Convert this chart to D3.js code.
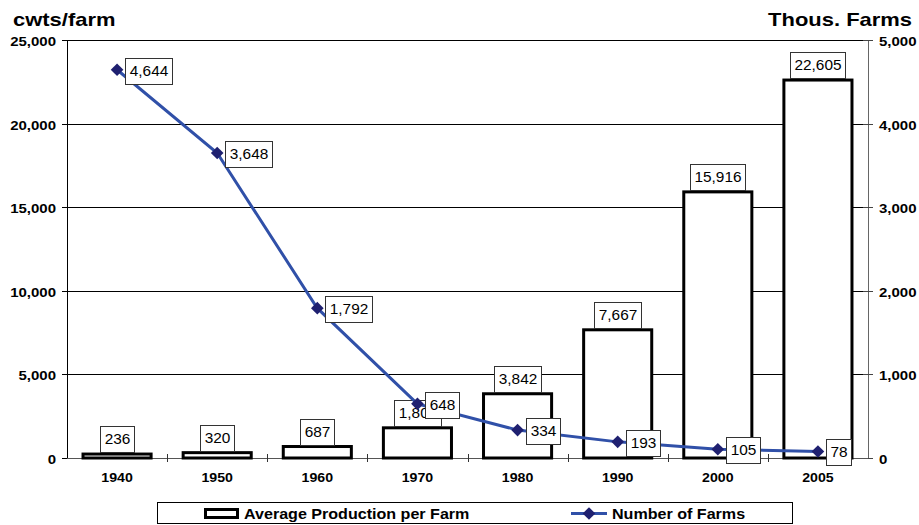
<!DOCTYPE html>
<html><head><meta charset="utf-8">
<script src="https://cdn.jsdelivr.net/npm/d3@7"></script>
<style>body{margin:0;background:#fff}svg{display:block}text{font-family:"Liberation Sans",Arial,sans-serif}</style>
</head><body>
<svg id="c" width="919" height="525"></svg>
<script>
const years = ["1940","1950","1960","1970","1980","1990","2000","2005"];
const production = [236, 320, 687, 1805, 3842, 7667, 15916, 22605];
const farms = [4644, 3648, 1792, 648, 334, 193, 105, 78];
const leftTicks = [0, 5000, 10000, 15000, 20000, 25000];
const rightTicks = [0, 1000, 2000, 3000, 4000, 5000];
const leftTitle = "cwts/farm";
const rightTitle = "Thous. Farms";
const legendLabels = ["Average Production per Farm", "Number of Farms"];

const svg = d3.select("#c");
const L = 67, R = 868, T = 40, B = 458;
const x = d3.scaleBand().domain(years).range([L, R]).padding(0);
const yL = d3.scaleLinear().domain([0, 25000]).range([B, T]);
const yR = d3.scaleLinear().domain([0, 5000]).range([B, T]);
const fmt = d3.format(",");

function txt(g, px, py, s, o) {
  return g.append("text")
    .attr("transform", `translate(${px},${py}) scale(${o.sx||1},1)`)
    .attr("text-anchor", o.anchor || "start")
    .attr("font-size", o.size)
    .attr("font-weight", o.weight || "normal")
    .attr("fill", "#000")
    .text(s);
}

// gridlines
svg.append("g").selectAll("line").data(leftTicks.filter(d => d > 0)).join("line")
  .attr("x1", L).attr("x2", R).attr("y1", d => Math.round(yL(d)) + 0.5).attr("y2", d => Math.round(yL(d)) + 0.5)
  .attr("stroke", "#000").attr("stroke-width", 1);

// left axis
const la = svg.append("g");
la.append("line").attr("x1", L + 0.5).attr("x2", L + 0.5).attr("y1", T).attr("y2", B).attr("stroke", "#000");
leftTicks.forEach(v => {
  const yy = Math.round(yL(v)) + 0.5;
  la.append("line").attr("x1", L - 5).attr("x2", L + 5).attr("y1", yy).attr("y2", yy).attr("stroke", "#000");
  txt(la, 56, yy + 5, fmt(v), {size: 12.5, weight: "bold", anchor: "end", sx: 1.2});
});

// right axis
const ra = svg.append("g");
ra.append("line").attr("x1", R + 0.5).attr("x2", R + 0.5).attr("y1", T).attr("y2", B).attr("stroke", "#666");
rightTicks.forEach(v => {
  const yy = Math.round(yR(v)) + 0.5;
  ra.append("line").attr("x1", R - 5).attr("x2", R + 5).attr("y1", yy).attr("y2", yy).attr("stroke", "#444");
  txt(ra, 879, yy + 5, fmt(v), {size: 12.5, weight: "bold", anchor: "start", sx: 1.2});
});

// bottom axis
const ba = svg.append("g");
ba.append("line").attr("x1", L).attr("x2", R).attr("y1", B + 0.5).attr("y2", B + 0.5).attr("stroke", "#555");
years.slice(1).forEach(yr => {
  const xx = Math.round(x(yr)) + 0.5;
  ba.append("line").attr("x1", xx).attr("x2", xx).attr("y1", B - 4).attr("y2", B + 4).attr("stroke", "#333");
});
years.forEach(yr => {
  txt(ba, x(yr) + x.bandwidth() / 2, 482, yr, {size: 12, weight: "bold", anchor: "middle", sx: 1.18});
});

// titles
txt(svg, 13, 26, leftTitle, {size: 18, weight: "bold", sx: 1.22});
txt(svg, 912, 26, rightTitle, {size: 18, weight: "bold", anchor: "end", sx: 1.22});

// bars
const bw = x.bandwidth() * 0.68;
svg.append("g").selectAll("rect").data(years).join("rect")
  .attr("x", d => x(d) + (x.bandwidth() - bw) / 2)
  .attr("width", bw)
  .attr("y", (d, i) => yL(production[i]))
  .attr("height", (d, i) => B - yL(production[i]))
  .attr("fill", "#fff").attr("stroke", "#000").attr("stroke-width", 3);

function labelBox(g, cx, cy, s, anchorMode) {
  const grp = g.append("g");
  const r = grp.append("rect");
  const sx = 1.1;
  const t = txt(grp, 0, 0, s, {size: 14, anchor: "middle", sx: sx});
  const w = t.node().getComputedTextLength() * sx + 8;
  const h = 26;
  let bx, by;
  if (anchorMode === "above") { bx = cx - w / 2; by = cy - h - 1; }
  else { bx = cx; by = cy - h / 2; }
  r.attr("x", Math.round(bx) + 0.5).attr("y", Math.round(by) + 0.5).attr("width", Math.round(w)).attr("height", h)
    .attr("fill", "#fff").attr("stroke", "#333").attr("stroke-width", 1);
  t.attr("transform", `translate(${Math.round(bx) + 0.5 + Math.round(w) / 2},${by + h / 2 + 5}) scale(${sx},1)`);
}

// bar labels
const bl = svg.append("g");
years.forEach((yr, i) => labelBox(bl, x(yr) + x.bandwidth() / 2, yL(production[i]) - 1, fmt(production[i]), "above"));

// line
const pts = years.map((yr, i) => [x(yr) + x.bandwidth() / 2, yR(farms[i])]);
svg.append("path").attr("d", d3.line()(pts)).attr("fill", "none").attr("stroke", "#3050A8").attr("stroke-width", 3);
svg.append("g").selectAll("path").data(pts).join("path")
  .attr("d", d3.symbol().type(d3.symbolSquare).size(80))
  .attr("transform", d => `translate(${d[0]},${d[1]}) rotate(45)`)
  .attr("fill", "#1F2070");

// line labels
const ll = svg.append("g");
pts.forEach((p, i) => labelBox(ll, p[0] + 8, p[1] + 1, fmt(farms[i]), "right"));

// legend
const lg = svg.append("g");
lg.append("rect").attr("x", 157.5).attr("y", 502.5).attr("width", 635).attr("height", 21)
  .attr("fill", "#fff").attr("stroke", "#000").attr("stroke-width", 1);
lg.append("rect").attr("x", 205.5).attr("y", 509.5).attr("width", 32).attr("height", 8)
  .attr("fill", "#fff").attr("stroke", "#000").attr("stroke-width", 3);
txt(lg, 244, 519, legendLabels[0], {size: 14.5, weight: "bold", sx: 1.11});
lg.append("line").attr("x1", 571).attr("x2", 607).attr("y1", 513.5).attr("y2", 513.5).attr("stroke", "#3050A8").attr("stroke-width", 3);
lg.append("path").attr("d", d3.symbol().type(d3.symbolSquare).size(80)).attr("transform", "translate(589,513.5) rotate(45)").attr("fill", "#1F2070");
txt(lg, 612, 519, legendLabels[1], {size: 14.5, weight: "bold", sx: 1.11});
</script>
</body></html>
